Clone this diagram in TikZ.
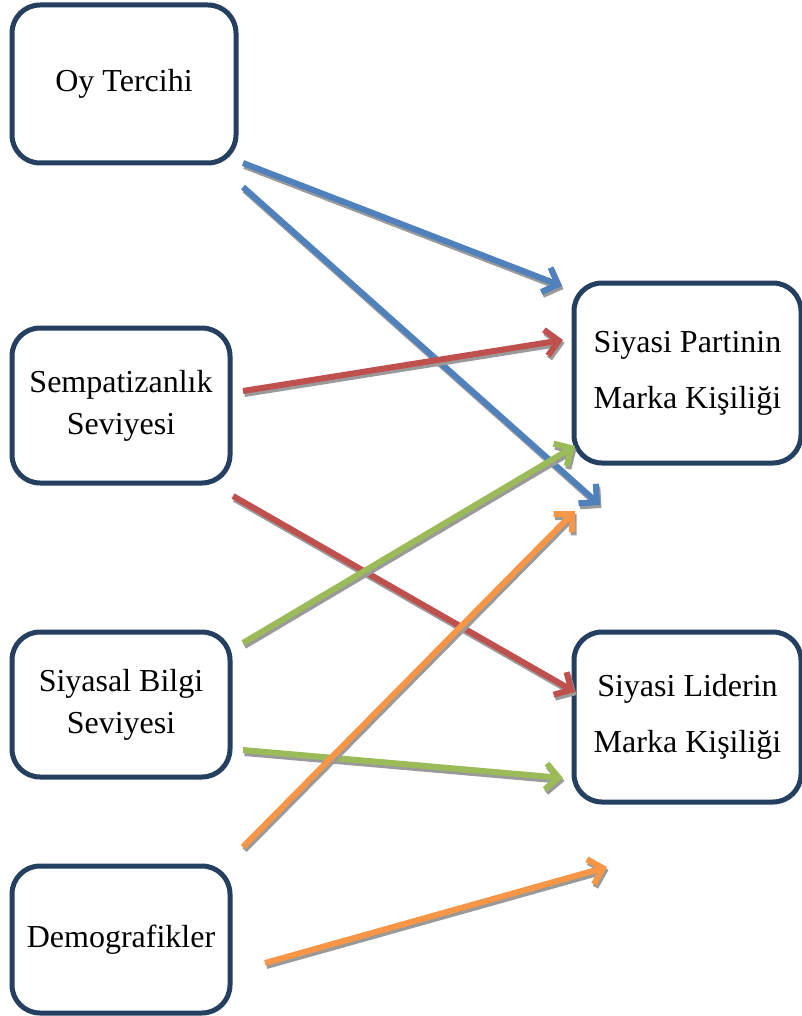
\documentclass[tikz,border=0pt]{standalone}
\usepackage{fontspec}
\setmainfont{Liberation Serif}
\usetikzlibrary{arrows.meta}
\definecolor{boxc}{HTML}{243F60}
\definecolor{blu}{HTML}{4F81BD}
\definecolor{rd}{HTML}{C0504D}
\definecolor{grn}{HTML}{9BBB59}
\definecolor{org}{HTML}{F79646}
\definecolor{shd}{HTML}{9A9A9A}
\begin{document}
\begin{tikzpicture}[x=1pt,y=-1pt,
  box/.style={draw=boxc, line width=5pt, rounded corners=28pt, inner sep=0pt, align=center, fill=white},
  tight/.style={font=\fontsize{32}{42}\selectfont},
  loose/.style={font=\fontsize{32}{56}\selectfont},
  arr/.style={line width=6pt, -{Straight Barb[length=13pt,width=26pt]}},
  shadowarr/.style={arr, draw=shd, transform canvas={shift={(1.5pt,-3pt)}}}]
\useasboundingbox (0,0) rectangle (802,1016);
\node[box, tight, minimum width=224pt, minimum height=158pt] (oy) at (124,84) {Oy Tercihi};
\node[box, tight, minimum width=218pt, minimum height=155pt] (sem) at (121,405.5) {Sempatizanlık\\Seviyesi};
\node[box, tight, minimum width=218pt, minimum height=145pt] (bil) at (121,704.5) {Siyasal Bilgi\\Seviyesi};
\node[box, tight, minimum width=218pt, minimum height=147pt] (dem) at (121,939.5) {\raisebox{-7pt}{Demografikler}};
\node[box, loose, minimum width=227pt, minimum height=180pt] (par) at (687.5,373) {Siyasi Partinin\\Marka Kişiliği};
\node[box, loose, minimum width=227pt, minimum height=170pt] (lid) at (687.5,717) {Siyasi Liderin\\Marka Kişiliği};
\coordinate (a1s) at (243,163); \coordinate (a1e) at (562,286);
\coordinate (a2s) at (243,187); \coordinate (a2e) at (600,505);
\coordinate (r1s) at (243,391); \coordinate (r1e) at (563,340);
\coordinate (r2s) at (233,496); \coordinate (r2e) at (575,692);
\coordinate (g1s) at (243,643); \coordinate (g1e) at (575,446);
\coordinate (g2s) at (243,750); \coordinate (g2e) at (563,778);
\coordinate (o1s) at (243,847); \coordinate (o1e) at (575,511);
\coordinate (o2s) at (265,963); \coordinate (o2e) at (607,867);
\foreach \s/\e/\c in {a1s/a1e/blu, a2s/a2e/blu, r1s/r1e/rd, r2s/r2e/rd, g1s/g1e/grn, g2s/g2e/grn, o1s/o1e/org, o2s/o2e/org}{
  \draw[shadowarr] (\s) -- (\e);
  \draw[arr, draw=\c] (\s) -- (\e);
}
\end{tikzpicture}
\end{document}
